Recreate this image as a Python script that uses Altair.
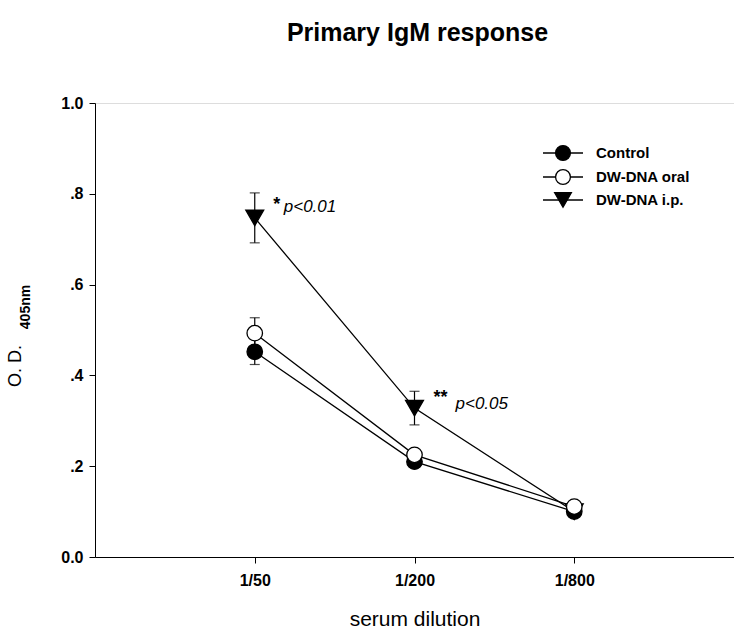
import altair as alt
import pandas as pd

# ---- data ----
dilutions = ["1/50", "1/200", "1/800"]
xpos = [1, 2, 3]
control = [0.452, 0.210, 0.100]
control_err = [0.028, 0.010, 0.004]
oral = [0.493, 0.225, 0.111]
oral_err = [0.034, 0.012, 0.004]
ip = [0.747, 0.328, 0.100]
ip_err = [0.055, 0.037, 0.004]

series_names = ["Control", "DW-DNA oral", "DW-DNA i.p."]

FONT = "Liberation Sans"

def frame(name, vals, errs):
    return pd.DataFrame({
        "series": name,
        "x": xpos,
        "dil": dilutions,
        "y": vals,
        "lo": [v - e for v, e in zip(vals, errs)],
        "hi": [v + e for v, e in zip(vals, errs)],
    })

df_c = frame(series_names[0], control, control_err)
df_o = frame(series_names[1], oral, oral_err)
df_i = frame(series_names[2], ip, ip_err)
df_all = pd.concat([df_i, df_c, df_o], ignore_index=True)

label_expr = " : ".join(
    [f"datum.value == {p} ? '{d}'" for p, d in zip(xpos, dilutions)]
) + " : ''"

X = alt.X(
    "x:Q",
    scale=alt.Scale(domain=[0, 4], nice=False, zero=False),
    axis=alt.Axis(
        values=xpos, labelExpr=label_expr, title="serum dilution",
        grid=False, tickSize=6, domainColor="black", tickColor="black",
        labelFont=FONT, labelFontSize=16, labelFontWeight="bold", labelColor="black",
        labelPadding=9, titleFont=FONT, titleFontSize=21, titleFontWeight="normal",
        titleColor="black", titlePadding=20, labelFlush=False,
    ),
)
Y = alt.Y(
    "y:Q",
    scale=alt.Scale(domain=[0, 1], nice=False),
    axis=alt.Axis(
        values=[0, 0.2, 0.4, 0.6, 0.8, 1.0],
        labelExpr="datum.value == 0 ? '0.0' : datum.value == 1 ? '1.0' : replace(format(datum.value, '.1f'), '0.', '.')",
        title=None, grid=False, tickSize=6, domainColor="black", tickColor="black",
        labelFont=FONT, labelFontSize=16, labelFontWeight="bold", labelColor="black",
        labelPadding=6,
    ),
)

base = alt.Chart(df_all)

err_rule = base.mark_rule(color="black", strokeWidth=1.2).encode(
    x=X, y=alt.Y("lo:Q", scale=alt.Scale(domain=[0, 1], nice=False)), y2="hi:Q",
    detail="series:N")
cap_lo = base.mark_tick(color="black", orient="horizontal", size=10, thickness=1.2).encode(
    x="x:Q", y="lo:Q")
cap_hi = base.mark_tick(color="black", orient="horizontal", size=10, thickness=1.2).encode(
    x="x:Q", y="hi:Q")

lines = base.mark_line(color="black", strokeWidth=1.3).encode(
    x=X, y=Y, detail="series:N")

def points(df, shape, fill, size):
    return alt.Chart(df).mark_point(
        shape=shape, filled=True, fill=fill, stroke="black", strokeWidth=1.3,
        size=size, opacity=1,
    ).encode(x="x:Q", y="y:Q")

pts_i = points(df_i, "triangle-down", "black", 320)
pts_c = points(df_c, "circle", "black", 240)
pts_o = points(df_o, "circle", "white", 240)

# significance annotations
ann = pd.DataFrame({"x": [xpos[0], xpos[1]], "y": [ip[0], ip[1]]})
star1 = alt.Chart(ann.iloc[[0]]).mark_text(
    text="*", font=FONT, fontSize=18, fontWeight="bold", align="center", baseline="middle",
    dx=22, dy=-13, color="black").encode(x="x:Q", y="y:Q")
p1 = alt.Chart(ann.iloc[[0]]).mark_text(
    text="p<0.01", font=FONT, fontSize=17, fontStyle="italic",
    align="left", baseline="middle", dx=29, dy=-11, color="black").encode(x="x:Q", y="y:Q")
star2 = alt.Chart(ann.iloc[[1]]).mark_text(
    text="**", font=FONT, fontSize=18, fontWeight="bold", align="center", baseline="middle",
    dx=26, dy=-10, color="black").encode(x="x:Q", y="y:Q")
p2 = alt.Chart(ann.iloc[[1]]).mark_text(
    text="p<0.05", font=FONT, fontSize=17, fontStyle="italic",
    align="left", baseline="middle", dx=41, dy=-4, color="black").encode(x="x:Q", y="y:Q")

# manual legend (pixel positions inside plot area)
one = pd.DataFrame({"k": [0]})
legend_layers = []
leg_specs = [(series_names[0], "circle", "black", 220, 50),
             (series_names[1], "circle", "white", 220, 74),
             (series_names[2], "triangle-down", "black", 280, 97)]
for name, shape, fill, size, ly in leg_specs:
    legend_layers.append(alt.Chart(one).mark_rule(color="black", strokeWidth=1.3).encode(
        x=alt.value(448), x2=alt.value(488), y=alt.value(ly)))
    legend_layers.append(alt.Chart(one).mark_point(
        shape=shape, filled=True, fill=fill, stroke="black", strokeWidth=1.3, size=size,
        opacity=1).encode(x=alt.value(468), y=alt.value(ly)))
    legend_layers.append(alt.Chart(one).mark_text(
        text=name, font=FONT, fontSize=15, fontWeight="bold", align="left",
        baseline="middle", color="black").encode(x=alt.value(501), y=alt.value(ly)))

# y-axis title with subscript
ytitle1 = alt.Chart(one).mark_text(
    text="O. D.", font=FONT, fontSize=18, angle=270, align="center", baseline="middle",
    color="black").encode(x=alt.value(-79), y=alt.value(263))
ytitle2 = alt.Chart(one).mark_text(
    text="405nm", font=FONT, fontSize=14, fontWeight="bold", angle=270, align="center",
    baseline="middle", color="black").encode(x=alt.value(-69), y=alt.value(204))

chart = alt.layer(
    err_rule, cap_lo, cap_hi, lines, pts_i, pts_c, pts_o,
    star1, p1, star2, p2, ytitle1, ytitle2, *legend_layers,
).properties(
    width=639, height=454,
    title=alt.TitleParams("Primary IgM response", font=FONT, fontSize=25,
                          fontWeight="bold", anchor="middle", offset=49, dx=3,
                          color="black"),
    autosize=alt.AutoSizeParams(type="none"),
    padding={"left": 95, "top": 103, "right": 0, "bottom": 77},
).configure_view(stroke=None).configure(background="white")

chart.save("out.html", embed_options={"renderer": "svg", "actions": False})
